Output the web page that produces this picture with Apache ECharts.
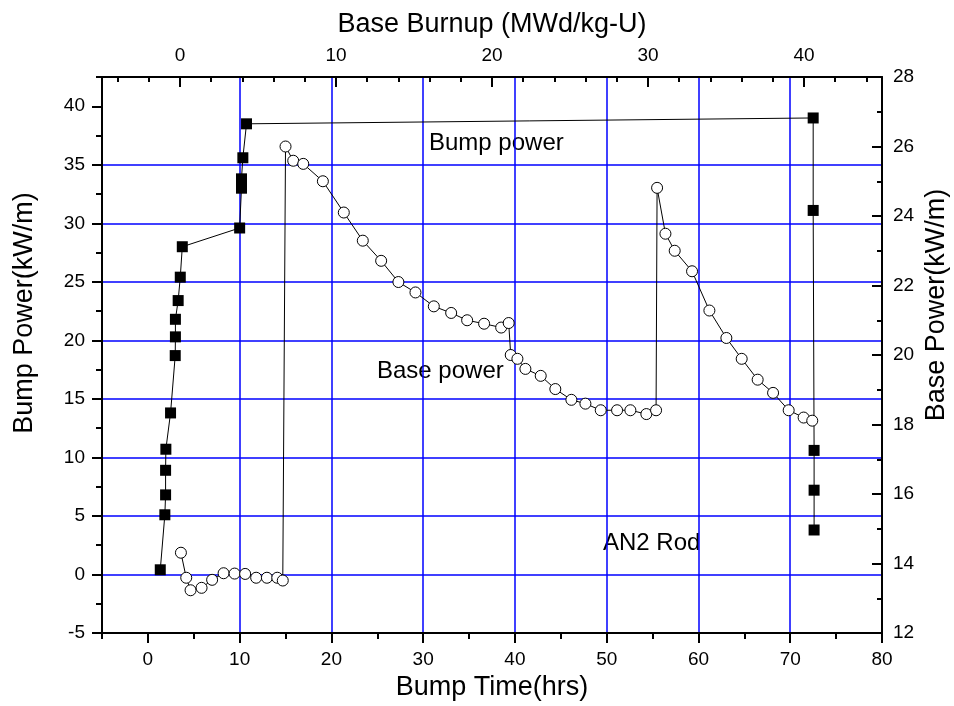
<!DOCTYPE html>
<html>
<head>
<meta charset="utf-8">
<script src="https://cdn.jsdelivr.net/npm/echarts@6/dist/echarts.min.js"></script>
<style>
  html, body { margin: 0; padding: 0; background: #fff; }
  #chart { width: 954px; height: 706px; }
</style>
</head>
<body>
<div id="chart"></div>
<script>
// bump power (filled squares, left axis)
const bumpTime = [1.35, 1.85, 1.93, 1.93, 1.96, 2.47, 2.98, 3.0, 3.0, 3.3, 3.53, 3.75, 10.0, 10.2, 10.2, 10.35, 10.75, 72.5, 72.5, 72.6, 72.6, 72.6]
const bumpPower = [0.4, 5.1, 6.8, 8.9, 10.7, 13.8, 18.7, 20.3, 21.8, 23.4, 25.4, 28.0, 29.6, 33.0, 33.8, 35.6, 38.5, 39.0, 31.1, 10.6, 7.2, 3.8]

// base power (open circles, right axis)
const baseTime = [3.6, 4.18, 4.65, 5.85, 7.0, 8.25, 9.45, 10.6, 11.8, 12.97, 14.1, 14.7,
  15.0, 15.84, 16.93, 19.07, 21.35, 23.42, 25.42, 27.3, 29.16, 31.16, 33.05, 34.79, 36.64, 38.5, 39.32,
  39.54, 40.27, 41.14, 42.81, 44.4, 46.15, 47.68, 49.35, 51.13, 52.58, 54.32, 55.38,
  55.49, 56.4, 57.41, 59.3, 61.19, 63.04, 64.71, 66.45, 68.13, 69.83, 71.46, 72.4]
const basePower = [14.31, 13.59, 13.23, 13.3, 13.53, 13.72, 13.71, 13.7, 13.59, 13.59, 13.59, 13.51,
  26.0, 25.59, 25.5, 25.0, 24.1, 23.29, 22.71, 22.1, 21.8, 21.4, 21.21, 21.0, 20.9, 20.79, 20.92,
  20.0, 19.89, 19.6, 19.4, 19.02, 18.71, 18.6, 18.41, 18.41, 18.41, 18.3, 18.41,
  24.81, 23.49, 23.0, 22.41, 21.28, 20.49, 19.89, 19.29, 18.91, 18.41, 18.2, 18.11]

// tick values
const timeMajor = [0, 10, 20, 30, 40, 50, 60, 70, 80]
const timeMinor = [-5, 5, 15, 25, 35, 45, 55, 65, 75]
const burnupMajor = [0, 10, 20, 30, 40]
const burnupMinor = [-4, -2, 2, 4, 6, 8, 12, 14, 16, 18, 22, 24, 26, 28, 32, 34, 36, 38, 42, 44]
const bumpMajor = [-5, 0, 5, 10, 15, 20, 25, 30, 35, 40]
const bumpMinor = [-2.5, 2.5, 7.5, 12.5, 17.5, 22.5, 27.5, 32.5, 37.5, 42.5]

const font = 'Liberation Sans, Arial, sans-serif'
const black = '#000'

function pairs(xs, ys) {
  return xs.map((x, i) => [x, ys[i]])
}

// axis pieces
function line(show) {
  return { show: show, onZero: false, lineStyle: { color: black, width: 2 } }
}
function tick(values, len, inside) {
  return { show: true, customValues: values, length: len, inside: !!inside, lineStyle: { color: black, width: 2 } }
}
function label(values, margin) {
  return { show: true, customValues: values, color: black, fontSize: 19, fontFamily: font, margin: margin }
}
function gridLine() {
  return { show: true, showMinLine: false, showMaxLine: false, lineStyle: { color: '#0000ff', width: 1.5 } }
}
const nameStyle = { color: black, fontSize: 27, fontFamily: font }

// free text: in-plot notes and the two vertical axis titles
function note(text, left, top) {
  return { type: 'text', left: left, top: top, style: { text: text, fontSize: 24, fontFamily: font, fill: black } }
}
function sideTitle(text, x, y) {
  return {
    type: 'text', x: x, y: y, rotation: Math.PI / 2,
    style: { text: text, fontSize: 27, fontFamily: font, fill: black, align: 'center', verticalAlign: 'middle' }
  }
}

const chart = echarts.init(document.getElementById('chart'))
chart.setOption({
  animation: false,
  backgroundColor: '#fff',
  grid: { left: 102, right: 72, top: 77, bottom: 73, containLabel: false, outerBoundsMode: 'none' },
  xAxis: [
    {
      type: 'value', position: 'bottom', min: -5, max: 80,
      name: 'Bump Time(hrs)', nameLocation: 'middle', nameGap: 41, nameTextStyle: nameStyle,
      axisLine: line(true), axisTick: tick(timeMajor, 10), axisLabel: label(timeMajor, 17),
      splitLine: gridLine()
    },
    {
      // minor ticks of bump time
      type: 'value', position: 'bottom', min: -5, max: 80,
      axisLine: line(false), axisTick: tick(timeMinor, 6), axisLabel: { show: false }, splitLine: { show: false }
    },
    {
      type: 'value', position: 'top', min: -5, max: 45,
      name: 'Base Burnup (MWd/kg-U)', nameLocation: 'middle', nameGap: 39, nameTextStyle: nameStyle,
      axisLine: line(true), axisTick: tick(burnupMajor, 10, true), axisLabel: label(burnupMajor, 12),
      splitLine: { show: false }
    },
    {
      // minor ticks of burnup
      type: 'value', position: 'top', min: -5, max: 45,
      axisLine: line(false), axisTick: tick(burnupMinor, 5, true), axisLabel: { show: false }, splitLine: { show: false }
    }
  ],
  yAxis: [
    {
      type: 'value', position: 'left', min: -5, max: 42.5,
      axisLine: line(true), axisTick: tick(bumpMajor, 10), axisLabel: label(bumpMajor, 17),
      splitLine: gridLine()
    },
    {
      type: 'value', position: 'right', min: 12, max: 28, interval: 2,
      axisLine: line(true),
      axisTick: { show: true, inside: true, length: 10, lineStyle: { color: black, width: 2 } },
      minorTick: { show: true, splitNumber: 2, length: 5, lineStyle: { color: black, width: 2 } },
      axisLabel: { show: true, color: black, fontSize: 19, fontFamily: font, margin: 11 },
      splitLine: { show: false }
    },
    {
      // minor ticks of bump power
      type: 'value', position: 'left', min: -5, max: 42.5,
      axisLine: line(false), axisTick: tick(bumpMinor, 6), axisLabel: { show: false }, splitLine: { show: false }
    }
  ],
  graphic: [
    note('Bump power', 429, 131),
    note('Base power', 377, 359),
    note('AN2 Rod', 603, 531),
    sideTitle('Bump Power(kW/m)', 25, 313),
    sideTitle('Base Power(kW/m)', 937, 305)
  ],
  series: [
    {
      name: 'Bump power', type: 'line', xAxisIndex: 0, yAxisIndex: 0,
      data: pairs(bumpTime, bumpPower),
      symbol: 'rect', symbolSize: 11, showAllSymbol: true,
      itemStyle: { color: black },
      lineStyle: { color: black, width: 1 }
    },
    {
      name: 'Base power', type: 'line', xAxisIndex: 0, yAxisIndex: 1,
      data: pairs(baseTime, basePower),
      symbol: 'circle', symbolSize: 11, showAllSymbol: true,
      itemStyle: { color: '#fff', borderColor: black, borderWidth: 1 },
      lineStyle: { color: black, width: 1 }
    }
  ]
})
</script>
</body>
</html>
